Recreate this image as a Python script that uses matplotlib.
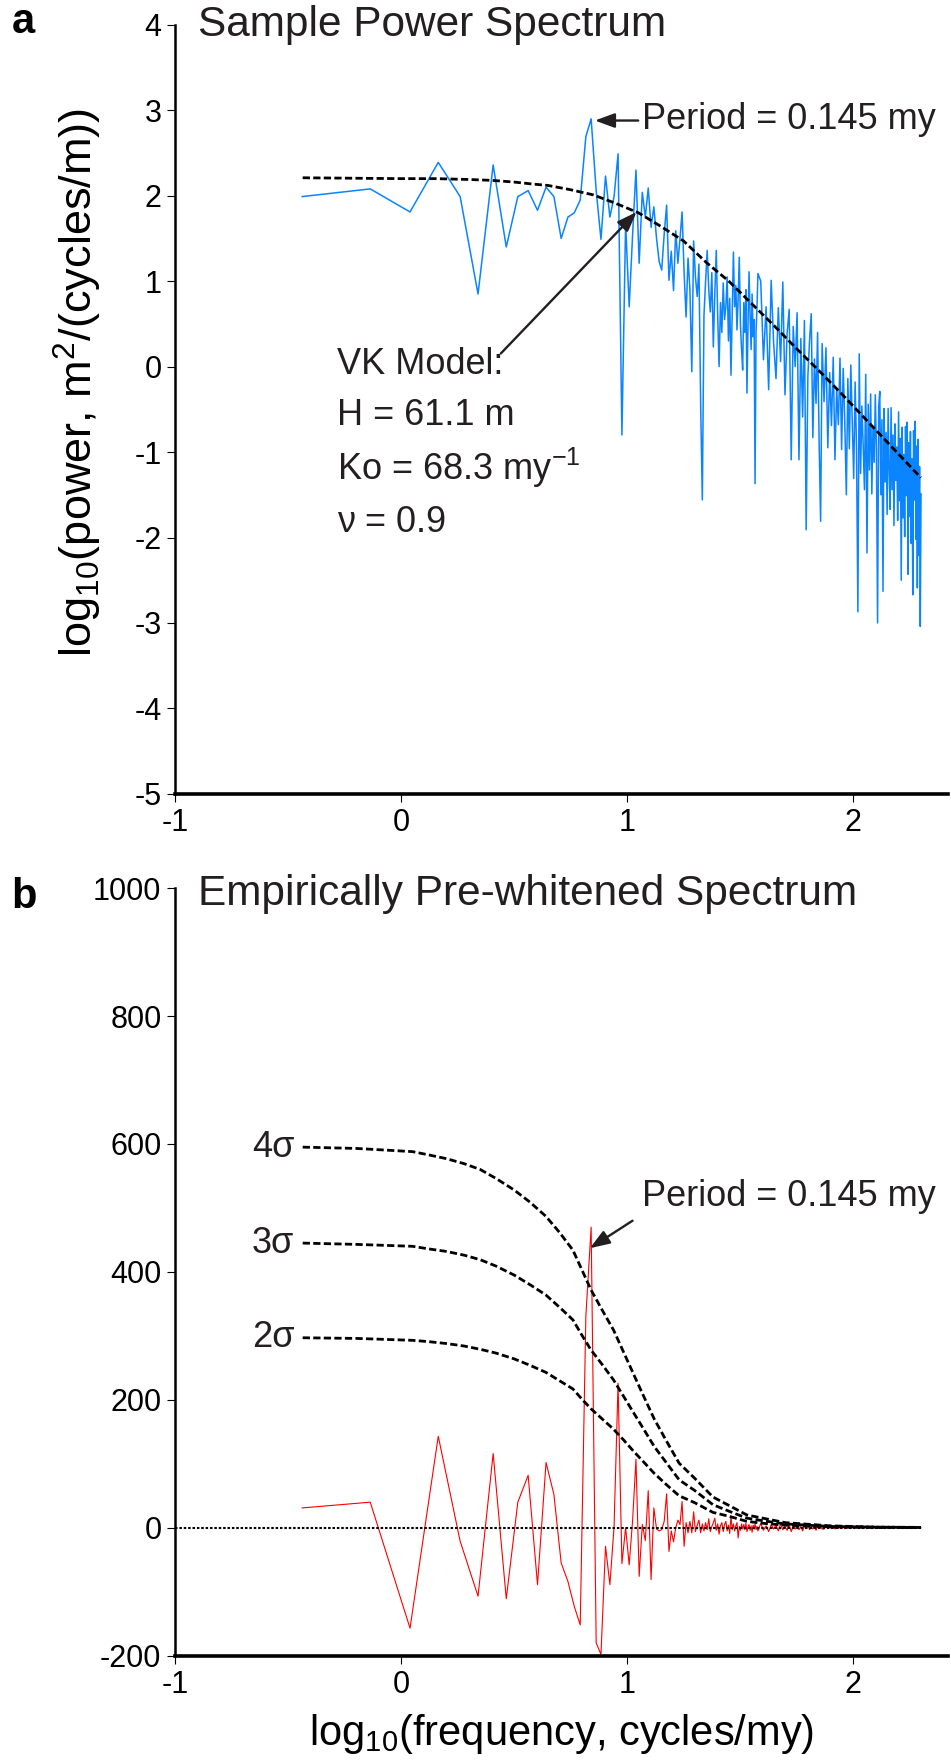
"""Sample power spectrum and empirically pre-whitened spectrum."""

from matplotlib import pyplot
import numpy

# Fundamental frequency of the record (cycles/my); the spectral estimates
# sit on the harmonics k * DF.
DF = 0.3647

# Harmonic numbers of the plotted estimates: every harmonic up to 104,
# then every 3rd / 4th harmonic where the line becomes a solid band.
harm_low = numpy.arange(1, 105)
harm_mid = numpy.arange(107, 201, 3)
harm_high = numpy.arange(204, 549, 4)

# Panel a: log10 power of the sample spectrum.
power_low = [1.99, 2.08, 1.81, 2.39, 1.99, 0.85, 2.36, 1.40, 1.99, 2.06,
             1.83, 2.10, 1.99, 1.50, 1.75, 1.80, 1.95, 2.69, 2.90, 2.06,
             1.49, 2.23, 1.75, 1.99, 2.49, -0.80, 1.68, 0.70, 1.55, 2.30,
             1.21, 2.04, 1.75, 2.09, 1.63, 1.87, 1.50, 1.23, 1.13, 1.55,
             1.89, 1.01, 1.35, 0.89, 1.59, 1.21, 1.50, 1.81, 1.10, 0.58,
             1.27, 0.90, -0.06, 1.47, 1.05, 0.82, 1.20, -0.43, -1.56, 0.60,
             1.00, 1.36, 0.90, 0.64, 1.10, 0.23, 0.85, 1.36, 0.60, 0.00,
             0.75, 0.40, 0.98, 0.55, 0.70, 1.05, 0.30, 0.80, -0.10, 0.60,
             1.34, 0.70, 0.95, 0.43, 0.80, 1.28, 0.50, 0.20, -0.04, 0.75,
             0.40, 0.90, -0.31, 0.50, 1.11, 0.60, 0.20, 0.85, 0.35, 0.55,
             -1.37, 0.40, 0.70, 1.09]
power_mid = [1.00, 0.08, 0.70, -0.27, 1.01, 0.28, -0.14, 0.69, 0.06, 0.99,
             -0.33, 0.39, 0.67, -1.09, 0.47, 0.00, 0.63, -1.09, 0.33, -0.59,
             0.54, -1.91, -0.11, 0.31, 0.62, -0.83, 0.09, -0.43, 0.40, -0.88,
             -1.81, 0.27]
power_high = [-0.41, 0.22, -0.95, -0.07, -0.69, 0.11, -1.09, -0.26, -0.68, 0.10,
              -0.97, -0.02, -0.65, -1.50, -0.14, -0.96, 0.02, -0.64, -1.31, -0.18,
              -0.95, -2.87, 0.15, -1.25, -0.46, -0.93, -1.44, -0.09, -2.18, -0.44,
              -1.21, -0.32, -1.49, -0.70, -1.12, -0.33, -1.00, -3.00, -0.47, -0.29,
              -1.50, -0.62, -2.63, -0.49, -1.35, -0.77, -1.73, -0.49, -1.20, -1.67,
              -0.48, -1.44, -0.80, -1.86, -0.67, -1.33, -0.94, -1.80, -0.53, -1.57,
              -0.84, -2.50, -0.71, -1.77, -1.03, -1.99, -0.70, -1.51, -0.65, -2.43,
              -0.89, -1.75, -0.76, -2.07, -1.08, -2.67, -0.75, -1.56, -0.64, -2.02,
              -0.93, -2.59, -0.85, -2.21, -1.17, -3.04, -1.49]

# Von Karman model fitted to the sample spectrum.
vk_logf = [-0.436, 0.0, 0.15, 0.3, 0.4, 0.5, 0.57, 0.65, 0.75, 0.85, 0.95,
           1.05, 1.15, 1.25, 1.35, 1.45, 1.55, 1.65, 1.75, 1.85, 1.95, 2.05,
           2.15, 2.30]
vk_power = [2.21, 2.20, 2.20, 2.19, 2.18, 2.16, 2.14, 2.12, 2.07, 2.01, 1.91,
            1.80, 1.64, 1.47, 1.22, 1.00, 0.74, 0.48, 0.21, -0.05, -0.32,
            -0.60, -0.88, -1.30]

# Panel b: empirically pre-whitened spectrum.
white_low = [31, 40, -157, 143, -21, -107, 116, -111, 40, 82,
             -89, 102, 52, -55, -84, -123, -152, 330, 470, -180,
             -198, -29, -89, 2, 226, -56, 0, -58, 12, 107,
             -76, 5, -20, 58, -81, 31, -2, -5, -3, 10,
             53, -37, -5, -22, 0, 12, 5, 41, -29, 8,
             -8, 10, -8, 25, -6, 4, 12, -8, 6, -5,
             8, -3, 14, -6, 2, 8, 15, -4, 6, -10,
             3, 8, -6, 5, 10, -5, 4, -9, 18, -3,
             6, -5, 3, 8, -16, 2, -4, 6, -2, 5,
             -3, 7, -6, 2, 5, -4, 3, -7, 4, -2,
             6, -3, 2, -5]
white_mid = [7, -4, 3, -6, 5, -2, 4, -5, 6, -3, 2, -4, 5, -6, 3, -2,
             4, -3, 2, -5, 3, -1, 4, -3, 2, -2, 3, -4, 2, -1, 2, -2]
white_high = [-2, 1.5, -1, 2, -1.5, 1, -2, 1, -1, 1.5,
              -1, 1, -1.5, 0.8, -0.8, 1.2, -1, 0.6, -0.8, 1,
              -0.6, 0.8, -0.7, 0.5, -0.6, 0.7, -0.5, 0.4, -0.6, 0.5,
              -0.4, 0.5, -0.4, 0.3, -0.5, 0.4, -0.3, 0.3, -0.4, 0.3,
              -0.3, 0.2, -0.3, 0.3, -0.2, 0.2, -0.3, 0.2, -0.2, 0.2,
              -0.2, 0.1, -0.2, 0.2, -0.1, 0.1, -0.2, 0.1, -0.1, 0.1,
              -0.1, 0.1, -0.1, 0.1, -0.1, 0.1, -0.1, 0.1, -0.1, 0.1,
              -0.1, 0.1, -0.1, 0.1, -0.1, 0.1, -0.1, 0.1, -0.1, 0.1,
              -0.1, 0.1, -0.1, 0.1, -0.1, 0.1, 0.0]

# Significance levels (2, 3 and 4 sigma) of the pre-whitened spectrum.
sig_logf = [-0.436, -0.2, 0.05, 0.12, 0.20, 0.28, 0.35, 0.42, 0.50, 0.57,
            0.64, 0.70, 0.76, 0.80, 0.84, 0.89, 0.94, 0.985, 1.03, 1.07,
            1.12, 1.175, 1.23, 1.30, 1.38, 1.45, 1.53, 1.60, 1.70, 1.90,
            2.10, 2.30]
sig4 = [595, 593, 588, 583, 577, 569, 560, 546, 528, 509, 487, 462, 434, 403,
        372, 340, 309, 274, 239, 208, 170, 135, 101, 77, 48, 35, 20, 15, 8,
        3, 1, 0.6]
sig3 = [445, 443, 440, 436, 432, 426, 419, 409, 395, 380, 364, 345, 325, 301,
        278, 255, 231, 205, 179, 156, 127, 101, 75, 58, 36, 26, 15, 11, 6,
        2, 1, 0.4]
sig2 = [297, 296, 293, 291, 288, 284, 279, 273, 264, 254, 243, 230, 217, 201,
        186, 170, 154, 137, 119, 104, 85, 67, 50, 39, 24, 18, 10, 7, 4,
        1.5, 0.6, 0.3]
sig_labels = ['4\u03c3', '3\u03c3', '2\u03c3']

# Assemble the spectra on the log-frequency axis.
harmonics = numpy.concatenate([harm_low, harm_mid, harm_high])
logf = numpy.log10(DF * harmonics)
power = numpy.array(power_low + power_mid + power_high)
white = numpy.array(white_low + white_mid + white_high)

pyplot.rcParams['font.family'] = ['Liberation Sans', 'DejaVu Sans']
pyplot.rcParams['mathtext.fontset'] = 'custom'
pyplot.rcParams['mathtext.rm'] = 'Liberation Sans'
pyplot.rcParams['mathtext.it'] = 'Liberation Sans:italic'
pyplot.rcParams['axes.unicode_minus'] = False

ink = '#231f20'
tick_size = 22
text_size = 26
title_size = 30.5
dash = (0, (2.6, 1.2))
arrow = dict(arrowstyle='-|>,head_length=0.6,head_width=0.22', color=ink,
             lw=1.7, shrinkA=0, shrinkB=0, mutation_scale=20)

fig = pyplot.figure(figsize=(9.51, 17.61), dpi=100)
ax_a = fig.add_axes([0.1843, 0.5492, 0.8125, 0.4367])
ax_b = fig.add_axes([0.1843, 0.0598, 0.8125, 0.4359])

for ax in (ax_a, ax_b):
    ax.spines['top'].set_visible(False)
    ax.spines['right'].set_visible(False)
    ax.spines['left'].set_linewidth(1.8)
    ax.spines['bottom'].set_linewidth(2.6)
    ax.tick_params(direction='out', length=6, width=0.8,
                   labelsize=tick_size, pad=4)
    ax.set_xlim(-1.0, 2.42)
    ax.set_xticks([-1, 0, 1, 2])

# Panel a: sample power spectrum with the Von Karman model.
ax_a.plot(logf, power, color='#0a84ff', lw=1.1)
ax_a.plot(vk_logf, vk_power, color='black', lw=2.0, linestyle=dash)
ax_a.set_ylim(-5, 4)
ax_a.set_yticks(range(-5, 5))
ax_a.set_ylabel(r'log$_{10}$(power, m$^2$/(cycles/m))', fontsize=32.5)
ax_a.yaxis.set_label_coords(-0.092, 0.535)
ax_a.text(-0.9, 4.0, 'Sample Power Spectrum', fontsize=title_size,
          va='center', color=ink)
ax_a.annotate('', xy=(0.857, 2.88), xytext=(1.049, 2.88), arrowprops=arrow)
ax_a.text(1.068, 2.89, 'Period = 0.145 my', fontsize=text_size,
          va='center', color=ink)
ax_a.annotate('', xy=(1.042, 1.81), xytext=(0.441, 0.154), arrowprops=arrow)
vk_lines = ['VK Model:', 'H = 61.1 m', r'Ko = 68.3 my$^{-1}$', '\u03bd = 0.9']
for line, ypos in zip(vk_lines, [0.02, -0.57, -1.19, -1.82]):
    ax_a.text(-0.285, ypos, line, fontsize=text_size, va='center', color=ink)

# Panel b: pre-whitened spectrum with significance levels.
ax_b.plot(logf, white, color='red', lw=0.8)
ax_b.plot([-1.0, 2.30], [0, 0], color='black', lw=1.5,
          linestyle=(0, (1.2, 0.9)))
for sig, label in zip([sig4, sig3, sig2], sig_labels):
    ax_b.plot(sig_logf, sig, color='black', lw=2.0, linestyle=dash)
    ax_b.annotate(label, xy=(sig_logf[0], sig[0]), xytext=(-6, 0),
                  textcoords='offset points', ha='right', va='center',
                  fontsize=text_size, color=ink)
ax_b.set_ylim(-200, 1000)
ax_b.set_yticks(range(-200, 1001, 200))
ax_b.set_xlabel(r'log$_{10}$(frequency, cycles/my)', fontsize=30)
ax_b.xaxis.set_label_coords(0.5, -0.074)
ax_b.text(-0.9, 990, 'Empirically Pre-whitened Spectrum', fontsize=title_size,
          va='center', color=ink)
ax_b.annotate('', xy=(0.835, 437), xytext=(1.024, 480), arrowprops=arrow)
ax_b.text(1.068, 518, 'Period = 0.145 my', fontsize=text_size,
          va='center', color=ink)

# Panel letters.
fig.text(0.012, 0.9875, 'a', fontsize=30, fontweight='bold', va='center')
fig.text(0.012, 0.4905, 'b', fontsize=30, fontweight='bold', va='center')

fig.savefig('out.png', dpi=100)
